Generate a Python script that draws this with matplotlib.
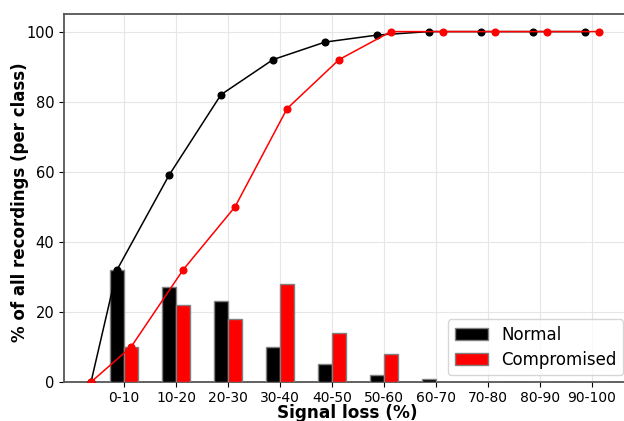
import matplotlib.pyplot as plt
import numpy as np

# signal loss classes
classes = ['0-10', '10-20', '20-30', '30-40', '40-50', '50-60',
           '60-70', '70-80', '80-90', '90-100']

# per class share of recordings (%)
normal_pct = [32, 27, 23, 10, 5, 2, 1, 0, 0, 0]
compromised_pct = [10, 22, 18, 28, 14, 8, 0, 0, 0, 0]

# cumulative share (%), first value is the starting point
normal_cum = [0, 32, 59, 82, 92, 97, 99, 100, 100, 100, 100]
compromised_cum = [0, 10, 32, 50, 78, 92, 100, 100, 100, 100, 100]

fig = plt.figure(figsize=(6.24, 4.21), dpi=100)
ax = fig.add_axes([0.1026, 0.0926, 0.907, 0.874])

x = np.arange(len(classes))
w = 0.27
off = 0.135

ax.bar(x - off, normal_pct, w, color='black', edgecolor='#808080', linewidth=1, label='Normal', zorder=3)
ax.bar(x + off, compromised_pct, w, color='red', edgecolor='#808080', linewidth=1, label='Compromised', zorder=3)

# cumulative lines start half a class before the first bar
start = x[0] - off - 0.5
xb = np.concatenate(([start], x - off))
xr = np.concatenate(([start], x + off))
ax.plot(xb, normal_cum, '-o', color='black', markersize=4.8, linewidth=1.1, zorder=4)
ax.plot(xr, compromised_cum, '-o', color='red', markersize=4.8, linewidth=1.1, zorder=4)

ax.set_xticks(x)
ax.set_xticklabels(classes, fontsize=10)
ax.set_yticks([0, 20, 40, 60, 80, 100])
ax.tick_params(axis='y', labelsize=10.5)
ax.tick_params(axis='x', pad=3)
ax.set_xlim(-1.154, 9.73)
ax.set_ylim(0, 105)

ax.set_xlabel('Signal loss (%)', fontsize=12.2, fontweight='bold')
ax.set_ylabel('% of all recordings (per class)', fontsize=12, fontweight='bold')
ax.xaxis.set_label_coords(0.5, -0.06)
ax.yaxis.set_label_coords(-0.062, 0.49)

ax.grid(True, color='#e6e6e6', linewidth=0.8, zorder=0)
ax.set_axisbelow(True)
for s in ['left', 'bottom', 'top']:
    ax.spines[s].set_color('#555555')
    ax.spines[s].set_linewidth(1.3)
ax.spines['right'].set_visible(False)

ax.legend(loc='lower right', fontsize=12, labelspacing=0.4, borderaxespad=0.4)

fig.savefig('out.png', dpi=100)
